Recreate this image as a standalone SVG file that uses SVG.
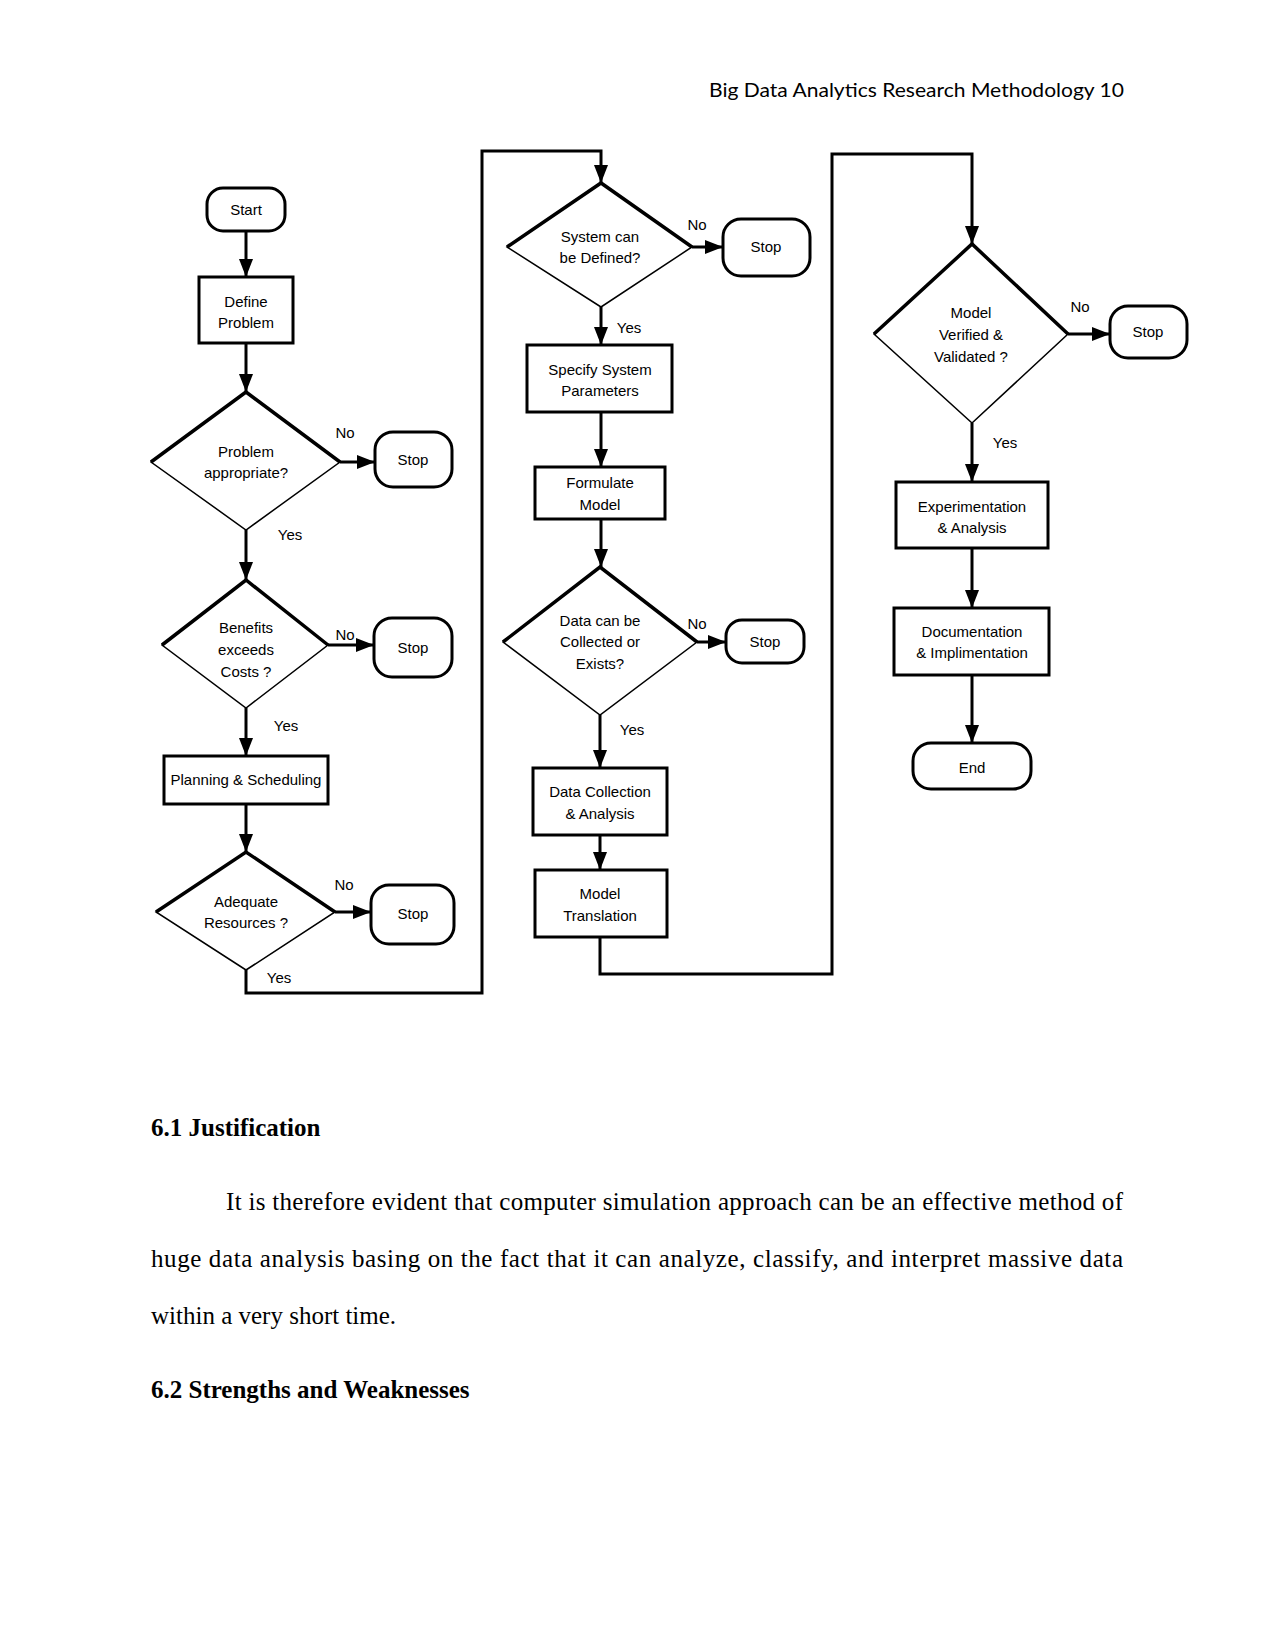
<svg xmlns="http://www.w3.org/2000/svg" width="1275" height="1650" viewBox="0 0 1275 1650">
<style>
.bg{fill:#ffffff}
.box{fill:#ffffff;stroke:#000;stroke-width:3}
.term{fill:#ffffff;stroke:#000;stroke-width:3}
.dia{fill:#ffffff;stroke:#000;stroke-width:1.5}
.diatop{fill:none;stroke:#000;stroke-width:3.5;stroke-linejoin:miter}
.t{font-family:"Liberation Sans",Arial,sans-serif;font-size:15px;fill:#000;text-anchor:middle}
.lbl{font-family:"Liberation Sans",Arial,sans-serif;font-size:15px;fill:#000;text-anchor:middle}
.conn{fill:none;stroke:#000;stroke-width:3}
.arr{marker-end:url(#ah)}
.hdr{font-family:Lato,"Open Sans",sans-serif;font-size:20px;fill:#000}
.body{font-family:"Liberation Serif","Times New Roman",serif;font-size:25px;fill:#000}
.h{font-family:"Liberation Serif","Times New Roman",serif;font-size:25px;font-weight:bold;fill:#000}
</style>
<defs>
<marker id="ah" markerUnits="userSpaceOnUse" markerWidth="18" markerHeight="14" refX="18" refY="7" orient="auto">
<path d="M0,0 L18,7 L0,14 z" fill="#000"/>
</marker>
</defs>
<rect class="bg" x="0" y="0" width="1275" height="1650"/>

<text class="hdr" x="709" y="97" textLength="415" lengthAdjust="spacingAndGlyphs">Big Data Analytics Research Methodology 10</text>

<g id="connectors">
<path class="conn arr" d="M246,231 L246,277"/>
<path class="conn arr" d="M246,343 L246,392"/>
<path class="conn arr" d="M340,462 L375,462"/>
<path class="conn arr" d="M246,530 L246,580"/>
<path class="conn arr" d="M328,645 L374,645"/>
<path class="conn arr" d="M246,708 L246,756"/>
<path class="conn arr" d="M246,804 L246,852"/>
<path class="conn arr" d="M335,912 L371,912"/>
<path class="conn arr" d="M246,970 L246,993 L482,993 L482,151 L601,151 L601,183"/>
<path class="conn arr" d="M692,247 L723,247"/>
<path class="conn arr" d="M601,307 L601,345"/>
<path class="conn arr" d="M601,412 L601,467"/>
<path class="conn arr" d="M601,519 L601,567"/>
<path class="conn arr" d="M697,642 L726,642"/>
<path class="conn arr" d="M600,715 L600,768"/>
<path class="conn arr" d="M600,835 L600,870"/>
<path class="conn arr" d="M600,937 L600,974 L832,974 L832,154 L972,154 L972,244"/>
<path class="conn arr" d="M1068,334 L1110,334"/>
<path class="conn arr" d="M972,423 L972,482"/>
<path class="conn arr" d="M972,548 L972,608"/>
<path class="conn arr" d="M972,675 L972,743"/>
<text class="lbl" x="345" y="438">No</text>
<text class="lbl" x="290" y="540">Yes</text>
<text class="lbl" x="345" y="640">No</text>
<text class="lbl" x="286" y="731">Yes</text>
<text class="lbl" x="344" y="890">No</text>
<text class="lbl" x="279" y="983">Yes</text>
<text class="lbl" x="697" y="230">No</text>
<text class="lbl" x="629" y="333">Yes</text>
<text class="lbl" x="697" y="629">No</text>
<text class="lbl" x="632" y="735">Yes</text>
<text class="lbl" x="1080" y="312">No</text>
<text class="lbl" x="1005" y="448">Yes</text>
</g>

<g id="start">
<rect class="term" x="207" y="188" width="78" height="43" rx="16"/>
<text class="t" x="246" y="215">Start</text>
</g>
<g id="define-problem">
<rect class="box" x="199" y="277" width="94" height="66"/>
<text class="t" x="246" y="307">Define</text>
<text class="t" x="246" y="328">Problem</text>
</g>
<g id="problem-appropriate">
<polygon class="dia" points="246,392 340,462 246,530 151,462"/>
<polyline class="diatop" points="151,462 246,392 340,462"/>
<text class="t" x="246" y="457">Problem</text>
<text class="t" x="246" y="478">appropriate?</text>
</g>
<g id="stop1">
<rect class="term" x="375" y="432" width="77" height="55" rx="18"/>
<text class="t" x="413" y="465">Stop</text>
</g>
<g id="benefits">
<polygon class="dia" points="246,580 328,645 246,708 162,645"/>
<polyline class="diatop" points="162,645 246,580 328,645"/>
<text class="t" x="246" y="633">Benefits</text>
<text class="t" x="246" y="655">exceeds</text>
<text class="t" x="246" y="677">Costs ?</text>
</g>
<g id="stop2">
<rect class="term" x="374" y="618" width="78" height="59" rx="18"/>
<text class="t" x="413" y="653">Stop</text>
</g>
<g id="planning">
<rect class="box" x="164" y="756" width="164" height="48"/>
<text class="t" x="246" y="785">Planning &amp; Scheduling</text>
</g>
<g id="adequate">
<polygon class="dia" points="246,852 335,912 246,970 156,912"/>
<polyline class="diatop" points="156,912 246,852 335,912"/>
<text class="t" x="246" y="907">Adequate</text>
<text class="t" x="246" y="928">Resources ?</text>
</g>
<g id="stop3">
<rect class="term" x="371" y="885" width="83" height="59" rx="18"/>
<text class="t" x="413" y="919">Stop</text>
</g>

<g id="system-defined">
<polygon class="dia" points="601,183 692,247 601,307 507,247"/>
<polyline class="diatop" points="507,247 601,183 692,247"/>
<text class="t" x="600" y="242">System can</text>
<text class="t" x="600" y="263">be Defined?</text>
</g>
<g id="stop4">
<rect class="term" x="723" y="219" width="87" height="57" rx="18"/>
<text class="t" x="766" y="252">Stop</text>
</g>
<g id="specify">
<rect class="box" x="527" y="345" width="145" height="67"/>
<text class="t" x="600" y="375">Specify System</text>
<text class="t" x="600" y="396">Parameters</text>
</g>
<g id="formulate">
<rect class="box" x="535" y="467" width="130" height="52"/>
<text class="t" x="600" y="488">Formulate</text>
<text class="t" x="600" y="510">Model</text>
</g>
<g id="data-collected">
<polygon class="dia" points="600,567 697,642 600,715 503,642"/>
<polyline class="diatop" points="503,642 600,567 697,642"/>
<text class="t" x="600" y="626">Data can be</text>
<text class="t" x="600" y="647">Collected or</text>
<text class="t" x="600" y="669">Exists?</text>
</g>
<g id="stop5">
<rect class="term" x="726" y="620" width="78" height="43" rx="16"/>
<text class="t" x="765" y="647">Stop</text>
</g>
<g id="data-collection">
<rect class="box" x="533" y="768" width="134" height="67"/>
<text class="t" x="600" y="797">Data Collection</text>
<text class="t" x="600" y="819">&amp; Analysis</text>
</g>
<g id="model-translation">
<rect class="box" x="535" y="870" width="132" height="67"/>
<text class="t" x="600" y="899">Model</text>
<text class="t" x="600" y="921">Translation</text>
</g>

<g id="model-verified">
<polygon class="dia" points="972,244 1068,334 972,423 874,334"/>
<polyline class="diatop" points="874,334 972,244 1068,334"/>
<text class="t" x="971" y="318">Model</text>
<text class="t" x="971" y="340">Verified &amp;</text>
<text class="t" x="971" y="362">Validated ?</text>
</g>
<g id="stop6">
<rect class="term" x="1110" y="306" width="77" height="52" rx="18"/>
<text class="t" x="1148" y="337">Stop</text>
</g>
<g id="experimentation">
<rect class="box" x="896" y="482" width="152" height="66"/>
<text class="t" x="972" y="512">Experimentation</text>
<text class="t" x="972" y="533">&amp; Analysis</text>
</g>
<g id="documentation">
<rect class="box" x="894" y="608" width="155" height="67"/>
<text class="t" x="972" y="637">Documentation</text>
<text class="t" x="972" y="658">&amp; Implimentation</text>
</g>
<g id="end">
<rect class="term" x="913" y="743" width="118" height="46" rx="18"/>
<text class="t" x="972" y="773">End</text>
</g>

<text class="h" x="151" y="1136">6.1 Justification</text>
<text class="body" x="226" y="1210" textLength="897" lengthAdjust="spacing">It is therefore evident that computer simulation approach can be an effective method of</text>
<text class="body" x="151" y="1267" textLength="972" lengthAdjust="spacing">huge data analysis basing on the fact that it can analyze, classify, and interpret massive data</text>
<text class="body" x="151" y="1324">within a very short time.</text>
<text class="h" x="151" y="1398">6.2 Strengths and Weaknesses</text>
</svg>
